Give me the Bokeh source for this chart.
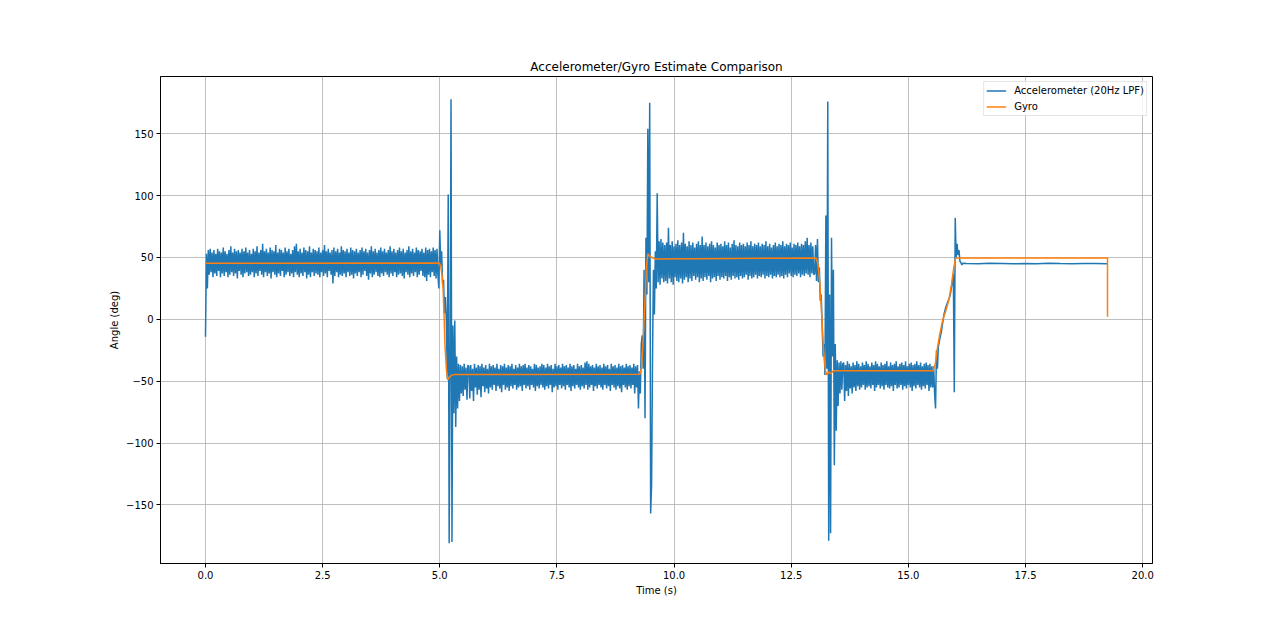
import numpy as np
from bokeh.plotting import figure
from bokeh.models import Range1d, FixedTicker, Legend, LegendItem, NumeralTickFormatter
from bokeh.embed import file_html
from bokeh.resources import INLINE

TITLE = "Accelerometer/Gyro Estimate Comparison"
X_LABEL = "Time (s)"
Y_LABEL = "Angle (deg)"
ACC_LABEL = "Accelerometer (20Hz LPF)"
GYRO_LABEL = "Gyro"

x_ticks = [0.0, 2.5, 5.0, 7.5, 10.0, 12.5, 15.0, 17.5, 20.0]
x_tick_labels = ["0.0", "2.5", "5.0", "7.5", "10.0", "12.5", "15.0", "17.5", "20.0"]
y_ticks = [-150, -100, -50, 0, 50, 100, 150]
y_tick_labels = ["\u2212150", "\u2212100", "\u221250", "0", "50", "100", "150"]

# ---- Accelerometer estimate (segment start, sample step, values) ----
acc_a_start, acc_a_step = 0.00, 0.02
acc_a = [
    -14, 53, 25, 56, 36, 57, 38, 54, 34, 56, 37, 53, 35, 57, 39, 55, 34, 54, 37, 58,
    35, 55, 38, 53, 34, 56, 36, 59, 38, 54, 35, 57, 37, 55, 33, 56, 39, 54, 36, 57,
    34, 55, 37, 58, 38, 54, 35, 56, 36, 53, 38, 57, 34, 55, 37, 59, 35, 54, 39, 56,
    36, 61, 34, 55, 38, 57, 35, 54, 37, 58, 33, 56, 38, 55, 36, 60, 34, 54, 37, 57,
    35, 56, 39, 54, 34, 58, 36, 55, 38, 57, 35, 53, 37, 56, 34, 59, 38, 61, 36, 55,
    34, 57, 37, 54, 35, 58, 38, 56, 33, 55, 36, 59, 34, 54, 38, 57, 35, 56, 37, 55,
    36, 58, 34, 54, 38, 56, 35, 60, 37, 55, 34, 57, 39, 54, 36, 56, 29, 58, 35, 55,
    38, 57, 34, 54, 36, 59, 35, 56, 37, 55, 34, 57, 38, 54, 35, 58, 36, 56, 33, 55,
    37, 57, 35, 54, 38, 56, 34, 58, 36, 55, 39, 57, 35, 54, 32, 56, 37, 59, 34, 55,
    36, 57, 38, 54, 35, 56, 34, 58, 37, 55, 35, 57, 38, 54, 36, 56, 34, 59, 37, 55,
    35, 57, 38, 54, 34, 56, 36, 58, 37, 55, 35, 57, 33, 54, 38, 56, 36, 59, 34, 55,
    37, 57, 35, 54, 38, 58, 34, 56, 36, 55, 39, 57, 35, 54, 34, 58, 31, 56, 36, 57,
    34, 55, 38, 58, 35, 56, 33, 57, 36, 25,
]
acc_b_start, acc_b_step = 5.00, 0.02
acc_b = [
    72, 44, 55, 28, 32, 5, 18, -1, -48, 101,
    -181, -40, 178, -180, -5, -76, -1, -87, -30, -72,
    -36, -66, -37, -60, -38, -62, -36, -57, -39, -65,
    -37,
]
acc_c_start, acc_c_step = 5.62, 0.02
acc_c = [
    -38, -64, -37, -58, -40, -66, -36, -55, -39, -61, -37, -57, -38, -63, -36, -54, -39, -59, -37, -56,
    -40, -60, -36, -55, -38, -57, -37, -53, -39, -58, -36, -54, -40, -56, -37, -59, -38, -53, -36, -57,
    -39, -55, -37, -58, -38, -54, -36, -56, -40, -53, -37, -57, -39, -55, -36, -54, -38, -58, -37, -53,
    -36, -56, -39, -54, -37, -57, -38, -53, -40, -55, -36, -58, -37, -54, -39, -56, -38, -53, -36, -55,
    -37, -57, -39, -54, -36, -56, -38, -53, -37, -59, -40, -55, -36, -54, -38, -57, -37, -53, -39, -56,
    -36, -54, -38, -57, -37, -53, -39, -55, -36, -58, -38, -54, -37, -56, -40, -53, -36, -55, -38, -57,
    -37, -54, -39, -56, -35, -53, -34, -57, -36, -55, -38, -53, -37, -58, -39, -54, -36, -56, -38, -53,
    -37, -55, -39, -57, -36, -53, -38, -56, -37, -54, -40, -58, -36, -53, -38, -55, -37, -57, -39, -54,
    -36, -56, -38, -59, -37, -53, -39, -55, -36, -57, -38, -54, -37, -56, -39, -53, -36, -60, -38, -55,
    -37,
]
acc_d_start, acc_d_step = 9.24, 0.02
acc_d = [
    -72, -42, -60, -20, -13, -40, 40, -80, 66, 20,
    154, 30, 175, -157, -134, -31, 40, 4, 55, 25,
    102, 30, 63, 28, 65, 33, 62, 30, 60,
]
acc_e_start, acc_e_step = 9.82, 0.02
acc_e = [
    31, 62, 29, 74, 33, 60, 30, 63, 28, 59, 34, 61, 31, 64, 30, 60, 33, 62, 29, 70,
    32, 61, 34, 59, 30, 63, 33, 60, 31, 62, 35, 58, 32, 61, 34, 63, 30, 60, 33, 67,
    31, 60, 34, 62, 32, 59, 35, 61, 30, 63, 33, 60, 34, 58, 31, 62, 35, 60, 32, 61,
    34, 59, 33, 63, 35, 60, 31, 62, 34, 58, 32, 61, 35, 64, 33, 60, 34, 59, 32, 62,
    35, 60, 33, 61, 34, 59, 36, 62, 32, 60, 35, 63, 33, 59, 34, 61, 36, 60, 33, 62,
    35, 59, 34, 61, 36, 60, 33, 63, 35, 59, 34, 61, 36, 58, 33, 60, 35, 62, 34, 59,
    36, 61, 34, 60, 35, 63, 33, 59, 36, 61, 34, 60, 37, 62, 35, 58, 34, 61, 36, 60,
    35, 62, 37, 59, 34, 61, 36, 60, 35, 63, 37, 66, 36, 60, 34, 62, 37, 59, 36,
]
acc_f_start, acc_f_step = 13.00, 0.02
acc_f = [
    37, 60, 31, 65, 30, 42, 15, 20, -5, -30,
    -20, -45, 84, -40, 176, -179, 20, -173, 66, -30,
    40, -118, -20, -90, -33, -70, -35, -60, -34, -57,
    -36,
]
acc_g_start, acc_g_step = 13.62, 0.02
acc_g = [
    -35, -66, -37, -58, -34, -62, -36, -56, -38, -60, -35, -55, -37, -58, -34, -54, -36, -57, -38, -55,
    -35, -53, -37, -57, -34, -55, -36, -54, -38, -56, -35, -53, -37, -58, -34, -55, -36, -53, -38, -56,
    -35, -54, -37, -57, -36, -53, -34, -55, -38, -56, -35, -54, -37, -58, -36, -53, -34, -56, -38, -55,
    -36, -53, -35, -57, -37, -54, -34, -56, -38, -53, -36, -55, -35, -58, -37, -54, -36, -56, -34, -53,
    -37, -55, -35, -57, -38, -54, -36, -56, -35, -53, -37, -58, -36, -55, -38,
]
acc_h_start, acc_h_step = 15.52, 0.02
acc_h = [
    -55, -38, -60, -72, -25, -40, -22, -18, -14, -11,
    -6, -1, 4, 7, 10, 12, 14, 16, 18, 21,
    26, 31, 37, -59, 82, 50, 61, 52, 56, 47,
    46, 44, 45.5, 45, 45.3,
]
acc_i_start, acc_i_step = 16.24, 0.25
acc_i = [45.2, 45.0, 45.3, 45.1, 44.9, 45.2, 45.0, 45.3, 45.1, 45.0, 45.2, 45.1, 45.0]

# ---- Gyro estimate ----
gyro_t = [0.00, 4.99, 5.02, 5.05, 5.07, 5.09, 5.11, 5.14, 5.17, 5.20, 5.24, 5.30,
          9.27, 9.31, 9.35, 9.39, 9.41, 9.44, 9.48, 9.53, 9.60,
          13.03, 13.07, 13.11, 13.15, 13.19, 13.23, 13.26, 13.30, 13.34, 13.40,
          15.53, 15.58, 15.62, 15.67, 15.73, 15.80, 15.86, 15.92, 15.97, 16.01,
          19.25, 19.25]
gyro_v = [45.3, 45.5, 43, 35, 25, 5, -20, -40, -49, -47, -45.5, -44.7,
          -44.5, -38, -9, 25, 42, 53, 51, 50, 48.8,
          49.6, 45, 30, 4, -25, -41.5, -45, -42.5, -44, -41.5,
          -41.5, -35, -23, -12, -1, 7, 15, 28, 42, 49.6,
          49.6, 2]

acc_segments = [
    (acc_a_start, acc_a_step, acc_a), (acc_b_start, acc_b_step, acc_b),
    (acc_c_start, acc_c_step, acc_c), (acc_d_start, acc_d_step, acc_d),
    (acc_e_start, acc_e_step, acc_e), (acc_f_start, acc_f_step, acc_f),
    (acc_g_start, acc_g_step, acc_g), (acc_h_start, acc_h_step, acc_h),
    (acc_i_start, acc_i_step, acc_i),
]
acc_t = np.concatenate([t0 + dt * np.arange(len(v)) for t0, dt, v in acc_segments])
acc_v = np.concatenate([np.asarray(v, dtype=float) for _, _, v in acc_segments])

FONT = "DejaVu Sans"

p = figure(width=1264, height=617, output_backend="svg", toolbar_location=None,
           x_range=Range1d(-0.96, 20.21), y_range=Range1d(-197.4, 196.3),
           min_border_left=160, min_border_right=112, min_border_top=76, min_border_bottom=54,
           title=TITLE)
p.background_fill_color = "white"
p.border_fill_color = "white"
p.outline_line_color = "black"
p.outline_line_width = 1
p.title.align = "center"
p.title.text_font = FONT
p.title.text_font_size = "12px"
p.title.text_font_style = "normal"
p.title.text_color = "black"
p.title.standoff = 5

p.xaxis.ticker = FixedTicker(ticks=x_ticks)
p.xaxis.formatter = NumeralTickFormatter(format="0.0")
p.xaxis.major_label_overrides = dict(zip(x_ticks, x_tick_labels))
p.yaxis.ticker = FixedTicker(ticks=y_ticks)
p.yaxis.major_label_overrides = dict(zip(y_ticks, y_tick_labels))
p.xaxis.axis_label = X_LABEL
p.yaxis.axis_label = Y_LABEL

for ax in (p.xaxis[0], p.yaxis[0]):
    ax.major_label_text_font = FONT
    ax.major_label_text_font_size = "10px"
    ax.major_label_text_color = "black"
    ax.axis_label_text_font = FONT
    ax.axis_label_text_font_size = "10px"
    ax.axis_label_text_font_style = "normal"
    ax.axis_label_text_color = "black"
    ax.major_tick_in = 0
    ax.major_tick_out = 4
    ax.minor_tick_in = 0
    ax.minor_tick_out = 0
    ax.major_label_standoff = 3
    ax.axis_label_standoff = 3
    ax.axis_line_color = "black"
    ax.major_tick_line_color = "black"

for g in (p.xgrid[0], p.ygrid[0]):
    g.grid_line_color = "#b0b0b0"
    g.grid_line_width = 0.8

r_acc = p.line(acc_t, acc_v, line_color="#1f77b4", line_width=1.5)
r_gyro = p.line(gyro_t, gyro_v, line_color="#ff7f0e", line_width=1.5)

legend = Legend(items=[LegendItem(label=ACC_LABEL, renderers=[r_acc]),
                       LegendItem(label=GYRO_LABEL, renderers=[r_gyro])],
                location="top_right")
legend.border_line_color = "#cccccc"
legend.border_line_width = 1
legend.background_fill_alpha = 0.8
legend.label_text_font = FONT
legend.label_text_font_size = "10px"
legend.label_text_color = "black"
legend.glyph_width = 20
legend.glyph_height = 13
legend.label_height = 13
legend.label_standoff = 8
legend.padding = 2
legend.spacing = 3
legend.margin = 5
p.add_layout(legend)

open("out.html", "w").write(file_html(p, INLINE))
